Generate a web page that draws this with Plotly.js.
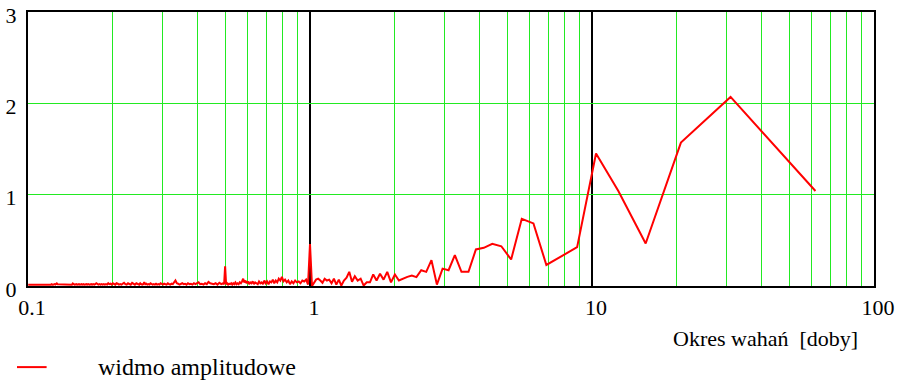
<!DOCTYPE html>
<html>
<head>
<meta charset="utf-8">
<script src="https://cdn.plot.ly/plotly-3.0.1.min.js"></script>
<style>
  html, body { margin: 0; padding: 0; background: #ffffff; }
  #chart { width: 899px; height: 383px; }
</style>
</head>
<body>
<div id="chart"></div>
<script>
// Amplitude spectrum of a 62-day record: harmonic k has period RECORD_DAYS / k.
const RECORD_DAYS = 62;

// Harmonics 1..125, every harmonic
const ampHarm1 = [
  1.04, 2.07, 1.57, 0.465, 1.04, 1.45, 0.425, 0.32, 0.23, 0.685,
  0.735, 0.29, 0.435, 0.462, 0.418, 0.40, 0.155, 0.155, 0.337, 0.173,
  0.19, 0.016, 0.283, 0.155, 0.173, 0.097, 0.115, 0.10, 0.08, 0.06,
  0.126, 0.04, 0.155, 0.07, 0.134, 0.06, 0.126, 0.04, 0.04, 0.005,
  0.08, 0.06, 0.107, 0.046, 0.155, 0.09, 0.06, 0.005, 0.07, 0.016,
  0.08, 0.03, 0.07, 0.06, 0.08, 0.035, 0.06, 0.08, 0.07, 0.03,
  0.0, 0.46, 0.016, 0.07, 0.05, 0.06, 0.03, 0.05, 0.04, 0.06,
  0.03, 0.05, 0.02, 0.06, 0.04, 0.07, 0.05, 0.10, 0.06, 0.08,
  0.04, 0.06, 0.03, 0.07, 0.04, 0.05, 0.02, 0.05, 0.03, 0.06,
  0.02, 0.04, 0.03, 0.05, 0.02, 0.03, 0.04, 0.02, 0.05, 0.03,
  0.04, 0.02, 0.05, 0.03, 0.06, 0.04, 0.08, 0.05, 0.03, 0.04,
  0.02, 0.03, 0.02, 0.04, 0.02, 0.03, 0.015, 0.03, 0.02, 0.025,
  0.015, 0.03, 0.02, 0.217, 0.02
];

// Harmonics 126..250, every second harmonic
const ampHarm126 = [
  0.03, 0.02, 0.035, 0.015, 0.03, 0.02, 0.025, 0.03, 0.045, 0.02,
  0.03, 0.015, 0.025, 0.02, 0.04, 0.025, 0.02, 0.03, 0.015, 0.025,
  0.02, 0.03, 0.015, 0.025, 0.02, 0.03, 0.02, 0.015, 0.025, 0.03,
  0.06, 0.035, 0.02, 0.025, 0.015, 0.02, 0.03, 0.015, 0.02, 0.025,
  0.015, 0.02, 0.03, 0.015, 0.02, 0.015, 0.025, 0.015, 0.02, 0.015,
  0.02, 0.03, 0.015, 0.02, 0.015, 0.025, 0.02, 0.04, 0.02, 0.015,
  0.02, 0.03, 0.015
];

// Harmonics 253..619, every third harmonic
const ampHarm253 = [
  0.02, 0.03, 0.015, 0.025, 0.035, 0.015, 0.02, 0.03, 0.015, 0.02,
  0.035, 0.02, 0.015, 0.02, 0.015, 0.025, 0.03, 0.015, 0.02, 0.03,
  0.015, 0.025, 0.02, 0.03, 0.015, 0.02, 0.015, 0.02, 0.015, 0.02,
  0.015, 0.02, 0.015, 0.025, 0.03, 0.02, 0.015, 0.02, 0.015, 0.02,
  0.015, 0.015, 0.02, 0.015, 0.02, 0.015, 0.015, 0.02, 0.015, 0.02,
  0.015, 0.015, 0.02, 0.015, 0.015, 0.02, 0.015, 0.015, 0.02, 0.028,
  0.015, 0.015, 0.02, 0.015, 0.015, 0.02, 0.015, 0.015, 0.015, 0.02,
  0.015, 0.015, 0.02, 0.015, 0.015, 0.015, 0.02, 0.015, 0.02, 0.028,
  0.015, 0.015, 0.02, 0.015, 0.015, 0.015, 0.02, 0.015, 0.015, 0.015,
  0.02, 0.015, 0.015, 0.015, 0.02, 0.015, 0.015, 0.015, 0.015, 0.02,
  0.015, 0.015, 0.015, 0.015, 0.02, 0.015, 0.015, 0.015, 0.015, 0.015,
  0.02, 0.015, 0.015, 0.015, 0.015, 0.015, 0.02, 0.015, 0.015, 0.015,
  0.015, 0.015, 0.015
];

const xTickVals = [0.1, 1, 10, 100];
const xTickText = ['0.1', '1', '10', '100'];
const xMinorVals = [0.2, 0.3, 0.4, 0.5, 0.6, 0.7, 0.8, 0.9,
                    2, 3, 4, 5, 6, 7, 8, 9,
                    20, 30, 40, 50, 60, 70, 80, 90];
const yTickVals = [0, 1, 2, 3];

const seriesName = 'widmo amplitudowe';
const xTitle = 'Okres wahań\u00a0 [doby]';

// Period (days) for each sampled harmonic of a block
function blockPeriods(firstHarmonic, step, count) {
  const out = [];
  for (let i = 0; i < count; i++) out.push(RECORD_DAYS / (firstHarmonic + step * i));
  return out;
}

const periods = [].concat(
  blockPeriods(1, 1, ampHarm1.length),
  blockPeriods(126, 2, ampHarm126.length),
  blockPeriods(253, 3, ampHarm253.length)
);
const amplitudes = [].concat(ampHarm1, ampHarm126, ampHarm253);

const GREEN = '#22ea22';
const RED = '#ff0000';
const FONT = 'Times New Roman, Liberation Serif, Tinos, DejaVu Serif, serif';

const trace = {
  type: 'scatter',
  mode: 'lines',
  name: seriesName,
  x: periods,
  y: amplitudes,
  line: { color: RED, width: 2 },
  hoverinfo: 'x+y'
};

const layout = {
  width: 899,
  height: 383,
  margin: { l: 28, r: 25, t: 12, b: 97, pad: 0, autoexpand: false },
  paper_bgcolor: '#ffffff',
  plot_bgcolor: '#ffffff',
  font: { family: FONT, size: 22, color: '#000000' },
  showlegend: false,
  xaxis: {
    type: 'log',
    range: [-1, 2],
    tickmode: 'array',
    tickvals: xTickVals,
    ticktext: xTickText,
    ticks: '',
    ticklabelshift: 4,
    ticklabelstandoff: 1,
    ticklabeloverflow: 'allow',
    showgrid: true,
    gridcolor: '#000000',
    gridwidth: 2,
    minor: {
      tickmode: 'array',
      tickvals: xMinorVals,
      ticks: '',
      showgrid: true,
      gridcolor: GREEN,
      gridwidth: 1
    },
    showline: true,
    mirror: true,
    linecolor: '#000000',
    linewidth: 2,
    zeroline: false,
    automargin: false,
    fixedrange: true
  },
  yaxis: {
    range: [0, 3],
    tickmode: 'array',
    tickvals: yTickVals,
    ticks: '',
    ticklabelstandoff: 5,
    ticklabelshift: 3,
    ticklabeloverflow: 'allow',
    showgrid: true,
    gridcolor: GREEN,
    gridwidth: 1,
    showline: true,
    mirror: true,
    linecolor: '#000000',
    linewidth: 2,
    zeroline: false,
    automargin: false,
    fixedrange: true
  },
  // legend key: short red stroke followed by the series name
  shapes: [{
    type: 'line',
    xref: 'paper', yref: 'paper',
    x0: -0.013, x1: 0.022, y0: -0.296, y1: -0.296,
    line: { color: RED, width: 2 }
  }],
  annotations: [{
    text: xTitle,
    xref: 'paper', yref: 'paper',
    x: 0.872, y: -0.19,
    xanchor: 'center', yanchor: 'middle',
    showarrow: false,
    font: { family: FONT, size: 22, color: '#000000' }
  }, {
    text: seriesName,
    xref: 'paper', yref: 'paper',
    x: 0.080, y: -0.296,
    xanchor: 'left', yanchor: 'middle',
    showarrow: false,
    font: { family: FONT, size: 24, color: '#000000' }
  }]
};

Plotly.newPlot('chart', [trace], layout, { displayModeBar: false, staticPlot: true });
</script>
</body>
</html>
